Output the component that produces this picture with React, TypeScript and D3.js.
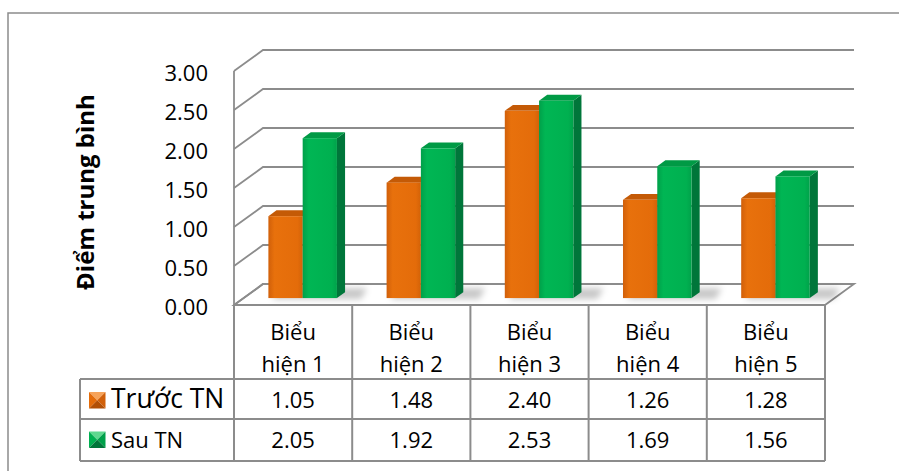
import {useEffect, useRef} from "react";
import * as d3 from "d3";

const categories = ["Biểu hiện 1", "Biểu hiện 2", "Biểu hiện 3", "Biểu hiện 4", "Biểu hiện 5"];
const seriesNames = ["Trước TN", "Sau TN"];
const truocTN = [1.05, 1.48, 2.40, 1.26, 1.28];
const sauTN = [2.05, 1.92, 2.53, 1.69, 1.56];
const yTicks = [0, 0.5, 1, 1.5, 2, 2.5, 3];
const yTitle = "Điểm trung bình";

function App()
{
    const myNode = useRef<HTMLDivElement>(null);

    useEffect(() => {
        const width = 899;
        const height = 471;
        const font = "'Open Sans', 'Noto Sans', sans-serif";
        const gridColor = "#8c8c8c";

        // 3d box: front plane and depth offset
        const left = 234, right = 825, floorY = 305, topY = 71;
        const DX = 29, DY = -21;
        const z0 = 0.33, bd = 0.28;
        const rowTops = [379, 419, 461];
        const legendLeft = 80;

        d3.select(myNode.current).selectAll('*').remove();

        const svg = d3.select(myNode.current)
            .append('svg')
            .attr('width', width)
            .attr('height', height)
            .style('position', 'absolute')
            .style('left', 0)
            .style('top', 0)
            .style('background', '#fff');

        const defs = svg.append('defs');
        defs.append('filter').attr('id', 'shadowBlur')
            .attr('x', '-50%').attr('y', '-50%').attr('width', '200%').attr('height', '200%')
            .append('feGaussianBlur').attr('stdDeviation', 3);

        const palettes = [
            {front: ["#d1600a", "#e8710c", "#e46c0a", "#d36208"], top: "#c45a06", side: "#b24f05"},
            {front: ["#00a04a", "#00b654", "#00b050", "#00a24a"], top: "#009a45", side: "#00763a"},
        ];
        palettes.forEach((p, i) => {
            const g = defs.append('linearGradient').attr('id', 'front' + i)
                .attr('x1', 0).attr('x2', 1).attr('y1', 0).attr('y2', 0);
            [0, 0.18, 0.85, 1].forEach((o, k) => g.append('stop').attr('offset', o).attr('stop-color', p.front[k]));
        });

        // outer frame (cropped)
        svg.append('path')
            .attr('d', `M8,${height} V13 H${width}`)
            .attr('fill', 'none')
            .attr('stroke', gridColor)
            .attr('stroke-width', 1.5);

        const xScale = d3.scaleBand()
            .domain(categories)
            .range([left, right]);
        const bw = xScale.bandwidth();

        const xSeries = d3.scaleBand()
            .domain(seriesNames)
            .range([bw * 0.21, bw * 0.79]);

        const yScale = d3.scaleLinear()
            .domain([0, 3])
            .range([floorY, topY]);

        // floor
        svg.append('polygon')
            .attr('points', [[left, floorY], [right, floorY], [right + DX, floorY + DY], [left + DX, floorY + DY]].map(p => p.join(',')).join(' '))
            .attr('fill', '#fff')
            .attr('stroke', gridColor)
            .attr('stroke-width', 1.8);

        // gridlines on side + back wall
        svg.append('g')
            .selectAll('path')
            .data(yTicks)
            .enter()
            .append('path')
            .attr('d', d => `M${left},${yScale(d)} L${left + DX},${yScale(d) + DY} L${right + DX},${yScale(d) + DY}`)
            .attr('fill', 'none')
            .attr('stroke', gridColor)
            .attr('stroke-width', 1.8);

        svg.append('line')
            .attr('x1', left).attr('x2', left)
            .attr('y1', yScale(3)).attr('y2', floorY)
            .attr('stroke', gridColor)
            .attr('stroke-width', 1.8);

        // tick labels
        svg.append('g')
            .selectAll('text')
            .data(yTicks)
            .enter()
            .append('text')
            .attr('x', 208)
            .attr('y', d => yScale(d) + 10)
            .attr('text-anchor', 'end')
            .attr('font-family', font)
            .attr('font-size', 22)
            .attr('fill', '#000')
            .text(d => d3.format('.2f')(d));

        svg.append('text')
            .attr('transform', `translate(94,${192}) rotate(-90)`)
            .attr('text-anchor', 'middle')
            .attr('font-family', font)
            .attr('font-size', 24)
            .attr('font-weight', 'bold')
            .text(yTitle);

        const barData = categories.flatMap((c, i) => [
            {cat: c, s: 0, value: truocTN[i]},
            {cat: c, s: 1, value: sauTN[i]},
        ]);

        // shadows on floor
        const shadows = svg.append('g').attr('filter', 'url(#shadowBlur)');
        categories.forEach(c => {
            const x0 = xScale(c)! + xSeries(seriesNames[0])! + z0 * DX;
            const x1 = xScale(c)! + xSeries(seriesNames[1])! + xSeries.bandwidth() + z0 * DX;
            const yb = floorY + z0 * DY;
            const pts = [[x0 + 4, yb + 1], [x1 + bd * DX + 16, yb + 1], [x1 + bd * DX + 22, yb + bd * DY - 4], [x0 + 10, yb + bd * DY - 4]];
            shadows.append('polygon')
                .attr('points', pts.map(p => p.join(',')).join(' '))
                .attr('fill', '#000')
                .attr('opacity', 0.22);
        });

        const bars = svg.append('g')
            .selectAll('g')
            .data(barData)
            .enter()
            .append('g');

        const geom = (d: {cat: string, s: number, value: number}) => {
            const fx = xScale(d.cat)! + xSeries(seriesNames[d.s])! + z0 * DX;
            const w = xSeries.bandwidth();
            const yb = yScale(0) + z0 * DY;
            const yt = yScale(d.value) + z0 * DY;
            return {fx, w, yb, yt, ox: bd * DX, oy: bd * DY};
        };

        bars.append('polygon')
            .attr('points', d => {
                const g = geom(d);
                return [[g.fx + g.w, g.yt], [g.fx + g.w + g.ox, g.yt + g.oy], [g.fx + g.w + g.ox, g.yb + g.oy], [g.fx + g.w, g.yb]].map(p => p.join(',')).join(' ');
            })
            .attr('fill', d => palettes[d.s].side);

        bars.append('polygon')
            .attr('points', d => {
                const g = geom(d);
                return [[g.fx, g.yt], [g.fx + g.w, g.yt], [g.fx + g.w + g.ox, g.yt + g.oy], [g.fx + g.ox, g.yt + g.oy]].map(p => p.join(',')).join(' ');
            })
            .attr('fill', d => palettes[d.s].top);

        bars.append('rect')
            .attr('x', d => geom(d).fx)
            .attr('y', d => geom(d).yt)
            .attr('width', d => geom(d).w)
            .attr('height', d => geom(d).yb - geom(d).yt)
            .attr('fill', d => `url(#front${d.s})`);

        // data table
        const table = svg.append('g')
            .attr('stroke', gridColor)
            .attr('stroke-width', 2)
            .attr('fill', 'none');

        rowTops.forEach(yy => {
            table.append('line').attr('x1', legendLeft).attr('x2', right).attr('y1', yy).attr('y2', yy);
        });
        table.append('line').attr('x1', legendLeft).attr('x2', legendLeft).attr('y1', rowTops[0]).attr('y2', rowTops[2]);
        [...categories.map(c => xScale(c)!), right].forEach(xx => {
            table.append('line').attr('x1', xx).attr('x2', xx).attr('y1', floorY).attr('y2', rowTops[2]);
        });

        const labels = svg.append('g')
            .attr('font-family', font)
            .attr('font-size', 22)
            .attr('text-anchor', 'middle')
            .attr('fill', '#000');

        categories.forEach(c => {
            const cx = xScale(c)! + bw / 2;
            const sp = c.indexOf(' ');
            labels.append('text').attr('x', cx).attr('y', 340).text(c.slice(0, sp));
            labels.append('text').attr('x', cx).attr('y', 372).text(c.slice(sp + 1));
        });

        [truocTN, sauTN].forEach((vals, r) => {
            const base = r === 0 ? 408 : 447.5;
            vals.forEach((v, i) => {
                labels.append('text')
                    .attr('x', xScale(categories[i])! + bw / 2)
                    .attr('y', base)
                    .text(d3.format('.2f')(v));
            });
        });

        // legend keys
        const legendSizes = [26.5, 22];
        seriesNames.forEach((name, r) => {
            const base = r === 0 ? 408 : 447.5;
            const sx = 89, sy = base - 16, s = 16.5;
            const p = palettes[r];
            const cxk = sx + s / 2, cyk = sy + s / 2;
            const tri = (a: number[][], fill: string) => svg.append('polygon')
                .attr('points', a.map(q => q.join(',')).join(' ')).attr('fill', fill);
            tri([[sx, sy], [sx + s, sy], [cxk, cyk]], r === 0 ? "#f6a35a" : "#5fd88f");
            tri([[sx, sy], [cxk, cyk], [sx, sy + s]], p.front[2]);
            tri([[sx + s, sy], [sx + s, sy + s], [cxk, cyk]], p.front[0]);
            tri([[sx, sy + s], [sx + s, sy + s], [cxk, cyk]], p.side);

            svg.append('text')
                .attr('x', 111)
                .attr('y', base)
                .attr('font-family', font)
                .attr('font-size', legendSizes[r])
                .attr('fill', '#000')
                .text(name);
        });
    }, []);

    return (
        <div ref={myNode} className='chart'>
        </div>
    );
}

export default App;
